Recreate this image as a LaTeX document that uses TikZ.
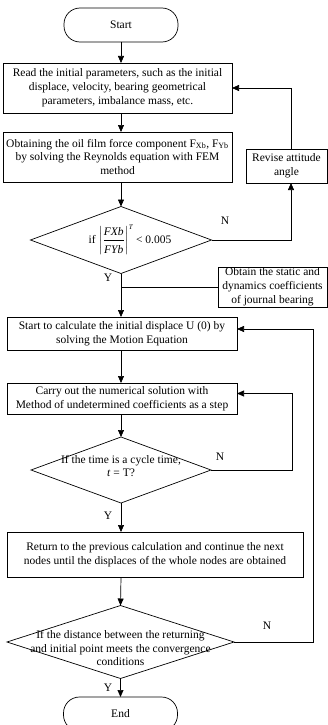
\documentclass[tikz,border=0pt]{standalone}
\usepackage{amsmath}
\usepackage{fontspec}
\setmainfont{Liberation Serif}
\usetikzlibrary{shapes.geometric,arrows.meta}
\begin{document}
\begin{tikzpicture}[x=1pt,y=-1pt,
  font=\fontsize{11.5}{13.8}\selectfont,
  every node/.style={inner sep=0pt, outer sep=0pt},
  proc/.style={draw, line width=0.7pt, rectangle, align=center},
  term/.style={draw, line width=0.7pt, rectangle, rounded corners=16pt, minimum width=114pt, minimum height=34pt},
  dec/.style={draw, line width=0.7pt, diamond},
  txt/.style={align=center},
  conn/.style={line width=0.7pt},
  arr/.style={conn, -{Triangle[length=7pt,width=6pt]}}
]
\useasboundingbox (0,0) rectangle (328,725);

\node[term] (start) at (121,25) {Start};
\node[proc, minimum width=229pt, minimum height=50pt] (b1) at (117.5,88)
  {Read the initial parameters, such as the initial\\ displace, velocity, bearing geometrical\\ parameters, imbalance mass, etc.};
\node[proc, minimum width=229pt, minimum height=50pt] (b2) at (117.5,157)
  {Obtaining the oil film force component F\textsubscript{Xb}, F\textsubscript{Yb}\\ by solving the Reynolds equation with FEM\\ method};
\node[proc, minimum width=81pt, minimum height=34pt] (rev) at (286.5,166) {Revise attitude\\ angle};
\node[dec, minimum width=181pt, minimum height=67pt] (d1) at (121,240) {};
\node (d1t) at (130,240) {if $\left|\dfrac{\mbox{\itshape FXb}\rule[-2pt]{0pt}{11pt}}{\mbox{\itshape FYb}\rule{0pt}{11pt}}\right|^{\mbox{\scriptsize\itshape T}}$ < 0.005};
\node[proc, minimum width=109pt, minimum height=40pt] (obt) at (272.5,287)
  {Obtain the static and\\ dynamics coefficients\\ of journal bearing};
\node[proc, minimum width=230pt, minimum height=33pt] (b3) at (122,333.5)
  {Start to calculate the initial displace U (0) by\\ solving the Motion Equation};
\node[proc, minimum width=230pt, minimum height=31pt] (b4) at (122,398.5)
  {Carry out the numerical solution with\\ Method of undetermined coefficients as a step};
\node[dec, minimum width=180pt, minimum height=66pt] (d2) at (121,470) {};
\node[txt] (d2t) at (121,466) {If the time is a cycle time,\\ \textit{t} = T?};
\node[proc, minimum width=296pt, minimum height=45pt] (b5) at (155,554.5)
  {Return to the previous calculation and continue the next\\ nodes until the displaces of the whole nodes are obtained};
\node[dec, minimum width=227pt, minimum height=73pt] (d3) at (120.5,642) {};
\node[txt] (d3t) at (120.5,648) {If the distance between the returning\\ and initial point meets the convergence\\ conditions};
\node[term] (end) at (120.5,714) {End};

\node (n1) at (225,221) {N};
\node (n2) at (220,457) {N};
\node (n3) at (267,626) {N};
\node (y1) at (108,278) {Y};
\node (y2) at (108,516) {Y};
\node (y3) at (108,688) {Y};

\draw[arr] (start) -- (start |- b1.north);
\draw[arr] (b1.south -| start) -- (b2.north -| start);
\draw[arr] (b2.south -| start) -- (d1.north);
\draw[arr] (d1.south) -- (b3.north -| d1.south);
\draw[conn] (obt.west) -- (obt.west -| d1.south);
\draw[arr] (b3.south -| d1) -- (b4.north -| d1);
\draw[arr] (b4.south -| d1) -- (d2.north);
\draw[arr] (d2.south) -- (b5.north -| d2.south);
\draw[arr] (b5.south -| d2) -- (d3.north);
\draw[arr] (d3.south) -- (end.north);

\draw[arr] (d1.east) -| ([xshift=4.5pt]rev.south);
\draw[arr] ([xshift=4.5pt]rev.north) |- (b1.east);
\coordinate (c2) at (292,470);
\draw[arr] (d2.east) -- (c2) |- ([yshift=5pt]b4.east);
\coordinate (c3) at (313.5,642);
\draw[arr] (d3.east) -- (c3) |- ([yshift=4.5pt]b3.east);
\end{tikzpicture}
\end{document}
